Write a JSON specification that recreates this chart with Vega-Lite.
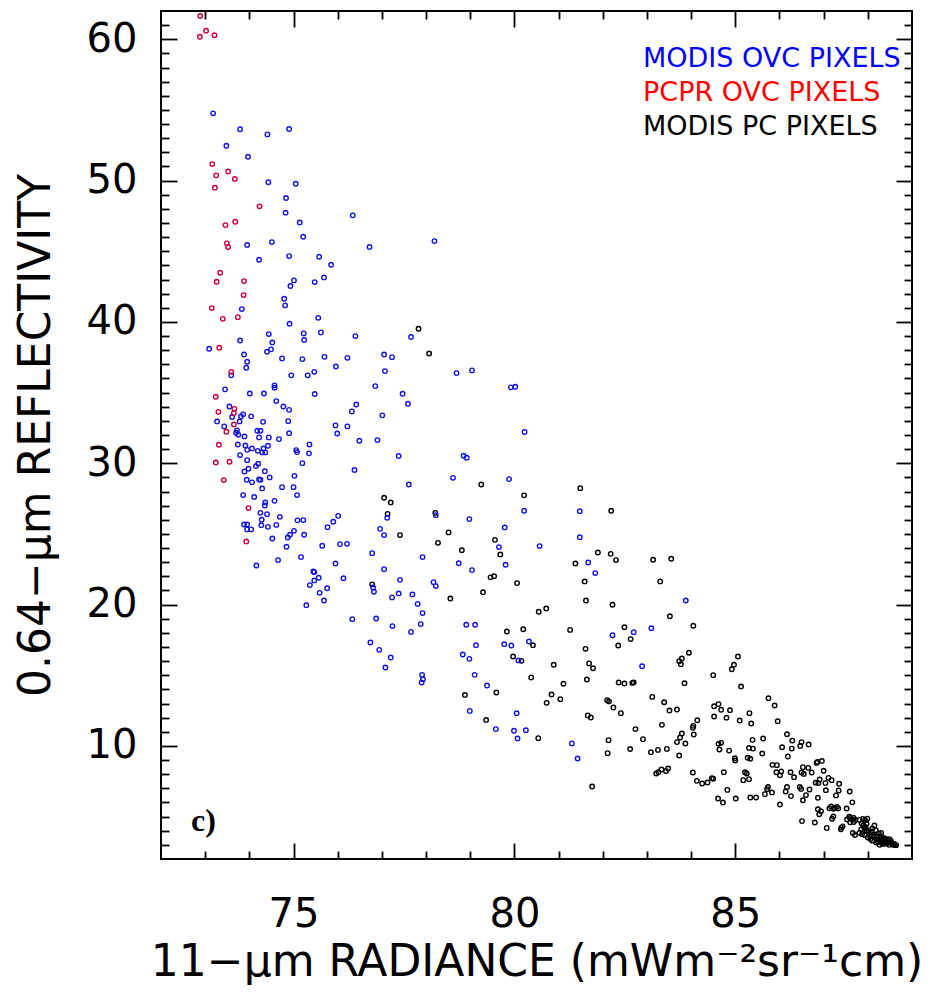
{
"$schema": "https://vega.github.io/schema/vega-lite/v6.json",
"width": 751, "height": 848,
"autosize": {"type": "none"},
"padding": {"left": 161, "top": 11, "right": 20, "bottom": 140},
"background": "white",
"config": {
 "view": {"stroke": "black", "strokeWidth": 2},
 "axis": {"domain": false, "grid": false, "tickColor": "black", "tickWidth": 1.8, "labelFont": "DejaVu Sans", "labelColor": "black", "titleFont": "DejaVu Sans", "titleColor": "black", "titleFontWeight": "normal"}
},
"datasets": {
 "pts": [
{"rad":77.83,"refl":39.52,"type":"MODIS PC PIXELS"},{"rad":78.07,"refl":37.77,"type":"MODIS PC PIXELS"},{"rad":77.05,"refl":27.56,"type":"MODIS PC PIXELS"},{"rad":77.2,"refl":27.23,"type":"MODIS PC PIXELS"},{"rad":77.13,"refl":26.42,"type":"MODIS PC PIXELS"},{"rad":78.21,"refl":26.49,"type":"MODIS PC PIXELS"},{"rad":77.41,"refl":24.92,"type":"MODIS PC PIXELS"},{"rad":78.51,"refl":25.11,"type":"MODIS PC PIXELS"},{"rad":78.27,"refl":24.37,"type":"MODIS PC PIXELS"},{"rad":76.78,"refl":21.43,"type":"MODIS PC PIXELS"},{"rad":78.55,"refl":20.43,"type":"MODIS PC PIXELS"},
{"rad":79.25,"refl":28.5,"type":"MODIS PC PIXELS"},{"rad":81.49,"refl":28.24,"type":"MODIS PC PIXELS"},{"rad":80.22,"refl":27.73,"type":"MODIS PC PIXELS"},{"rad":82.19,"refl":26.64,"type":"MODIS PC PIXELS"},{"rad":79.56,"refl":24.58,"type":"MODIS PC PIXELS"},{"rad":79.68,"refl":23.55,"type":"MODIS PC PIXELS"},{"rad":78.81,"refl":23.85,"type":"MODIS PC PIXELS"},{"rad":79.46,"refl":21.93,"type":"MODIS PC PIXELS"},{"rad":79.54,"refl":22.01,"type":"MODIS PC PIXELS"},{"rad":81.38,"refl":22.91,"type":"MODIS PC PIXELS"},{"rad":81.89,"refl":23.69,"type":"MODIS PC PIXELS"},{"rad":82.18,"refl":23.59,"type":"MODIS PC PIXELS"},{"rad":82.3,"refl":23.15,"type":"MODIS PC PIXELS"},{"rad":83.14,"refl":23.17,"type":"MODIS PC PIXELS"},{"rad":83.55,"refl":23.24,"type":"MODIS PC PIXELS"},
{"rad":80.06,"refl":21.52,"type":"MODIS PC PIXELS"},{"rad":79.29,"refl":20.88,"type":"MODIS PC PIXELS"},{"rad":81.59,"refl":21.64,"type":"MODIS PC PIXELS"},{"rad":83.3,"refl":21.64,"type":"MODIS PC PIXELS"},{"rad":81.62,"refl":20.29,"type":"MODIS PC PIXELS"},{"rad":82.22,"refl":19.99,"type":"MODIS PC PIXELS"},{"rad":80.55,"refl":19.49,"type":"MODIS PC PIXELS"},{"rad":80.72,"refl":19.73,"type":"MODIS PC PIXELS"},{"rad":83.52,"refl":19.18,"type":"MODIS PC PIXELS"},{"rad":79.83,"refl":18.1,"type":"MODIS PC PIXELS"},{"rad":80.2,"refl":18.26,"type":"MODIS PC PIXELS"},{"rad":80.42,"refl":17.13,"type":"MODIS PC PIXELS"},{"rad":79.97,"refl":16.33,"type":"MODIS PC PIXELS"},{"rad":80.16,"refl":16.02,"type":"MODIS PC PIXELS"},{"rad":80.89,"refl":15.74,"type":"MODIS PC PIXELS"},{"rad":80.38,"refl":14.85,"type":"MODIS PC PIXELS"},{"rad":79.59,"refl":13.78,"type":"MODIS PC PIXELS"},{"rad":78.88,"refl":13.61,"type":"MODIS PC PIXELS"},{"rad":79.36,"refl":11.84,"type":"MODIS PC PIXELS"},{"rad":81.11,"refl":14.4,"type":"MODIS PC PIXELS"},{"rad":80.84,"refl":13.64,"type":"MODIS PC PIXELS"},{"rad":81.04,"refl":13.31,"type":"MODIS PC PIXELS"},{"rad":80.73,"refl":13.05,"type":"MODIS PC PIXELS"},{"rad":80.54,"refl":10.55,"type":"MODIS PC PIXELS"},{"rad":81.26,"refl":18.21,"type":"MODIS PC PIXELS"},{"rad":81.61,"refl":16.87,"type":"MODIS PC PIXELS"},{"rad":81.69,"refl":15.84,"type":"MODIS PC PIXELS"},{"rad":81.78,"refl":15.5,"type":"MODIS PC PIXELS"},{"rad":81.64,"refl":14.7,"type":"MODIS PC PIXELS"},{"rad":82.35,"refl":17.11,"type":"MODIS PC PIXELS"},{"rad":82.49,"refl":18.4,"type":"MODIS PC PIXELS"},{"rad":82.63,"refl":17.56,"type":"MODIS PC PIXELS"},{"rad":82.36,"refl":14.49,"type":"MODIS PC PIXELS"},{"rad":82.49,"refl":14.42,"type":"MODIS PC PIXELS"},{"rad":82.67,"refl":14.46,"type":"MODIS PC PIXELS"},{"rad":82.7,"refl":14.5,"type":"MODIS PC PIXELS"},{"rad":82.1,"refl":13.24,"type":"MODIS PC PIXELS"},{"rad":82.14,"refl":13.15,"type":"MODIS PC PIXELS"},{"rad":82.24,"refl":12.72,"type":"MODIS PC PIXELS"},{"rad":82.41,"refl":12.32,"type":"MODIS PC PIXELS"},{"rad":81.66,"refl":12.16,"type":"MODIS PC PIXELS"},{"rad":81.73,"refl":12.01,"type":"MODIS PC PIXELS"},{"rad":82.74,"refl":11.19,"type":"MODIS PC PIXELS"},{"rad":82.13,"refl":10.41,"type":"MODIS PC PIXELS"},{"rad":82.11,"refl":9.49,"type":"MODIS PC PIXELS"},{"rad":82.62,"refl":9.78,"type":"MODIS PC PIXELS"},{"rad":82.91,"refl":10.48,"type":"MODIS PC PIXELS"},{"rad":83.09,"refl":9.56,"type":"MODIS PC PIXELS"},{"rad":83.25,"refl":9.72,"type":"MODIS PC PIXELS"},{"rad":83.45,"refl":9.79,"type":"MODIS PC PIXELS"},{"rad":83.21,"refl":8.05,"type":"MODIS PC PIXELS"},{"rad":83.26,"refl":8.14,"type":"MODIS PC PIXELS"},{"rad":83.33,"refl":8.33,"type":"MODIS PC PIXELS"},{"rad":83.43,"refl":8.23,"type":"MODIS PC PIXELS"},{"rad":83.48,"refl":8.4,"type":"MODIS PC PIXELS"},{"rad":81.76,"refl":7.13,"type":"MODIS PC PIXELS"},{"rad":83.12,"refl":13.47,"type":"MODIS PC PIXELS"},{"rad":83.39,"refl":13.09,"type":"MODIS PC PIXELS"},{"rad":83.51,"refl":12.51,"type":"MODIS PC PIXELS"},{"rad":83.68,"refl":12.58,"type":"MODIS PC PIXELS"},{"rad":83.34,"refl":11.49,"type":"MODIS PC PIXELS"},{"rad":83.79,"refl":10.88,"type":"MODIS PC PIXELS"},{"rad":83.75,"refl":10.6,"type":"MODIS PC PIXELS"},{"rad":83.68,"refl":10.27,"type":"MODIS PC PIXELS"},{"rad":83.87,"refl":10.17,"type":"MODIS PC PIXELS"},{"rad":83.73,"refl":9.32,"type":"MODIS PC PIXELS"},{"rad":83.85,"refl":14.44,"type":"MODIS PC PIXELS"},{"rad":83.73,"refl":16.0,"type":"MODIS PC PIXELS"},{"rad":83.79,"refl":16.19,"type":"MODIS PC PIXELS"},{"rad":83.77,"refl":15.78,"type":"MODIS PC PIXELS"},{"rad":83.95,"refl":16.59,"type":"MODIS PC PIXELS"},
{"rad":84.05,"refl":18.5,"type":"MODIS PC PIXELS"},{"rad":84.04,"refl":8.12,"type":"MODIS PC PIXELS"},{"rad":84.13,"refl":7.53,"type":"MODIS PC PIXELS"},{"rad":84.25,"refl":7.34,"type":"MODIS PC PIXELS"},{"rad":84.37,"refl":7.41,"type":"MODIS PC PIXELS"},{"rad":84.47,"refl":7.72,"type":"MODIS PC PIXELS"},{"rad":84.5,"refl":7.68,"type":"MODIS PC PIXELS"},{"rad":84.5,"refl":15.01,"type":"MODIS PC PIXELS"},{"rad":84.92,"refl":15.43,"type":"MODIS PC PIXELS"},{"rad":84.97,"refl":15.74,"type":"MODIS PC PIXELS"},{"rad":85.06,"refl":16.33,"type":"MODIS PC PIXELS"},{"rad":85.13,"refl":14.21,"type":"MODIS PC PIXELS"},{"rad":84.52,"refl":12.81,"type":"MODIS PC PIXELS"},{"rad":84.62,"refl":12.96,"type":"MODIS PC PIXELS"},{"rad":84.68,"refl":12.56,"type":"MODIS PC PIXELS"},{"rad":84.52,"refl":12.08,"type":"MODIS PC PIXELS"},{"rad":84.8,"refl":12.0,"type":"MODIS PC PIXELS"},{"rad":84.88,"refl":12.53,"type":"MODIS PC PIXELS"},{"rad":84.14,"refl":11.82,"type":"MODIS PC PIXELS"},{"rad":84.05,"refl":11.42,"type":"MODIS PC PIXELS"},{"rad":84.04,"refl":11.28,"type":"MODIS PC PIXELS"},{"rad":84.06,"refl":10.81,"type":"MODIS PC PIXELS"},{"rad":84.62,"refl":10.15,"type":"MODIS PC PIXELS"},{"rad":84.68,"refl":10.22,"type":"MODIS PC PIXELS"},{"rad":84.64,"refl":9.75,"type":"MODIS PC PIXELS"},{"rad":84.86,"refl":9.67,"type":"MODIS PC PIXELS"},{"rad":84.99,"refl":9.13,"type":"MODIS PC PIXELS"},{"rad":85.0,"refl":8.97,"type":"MODIS PC PIXELS"},{"rad":84.74,"refl":8.14,"type":"MODIS PC PIXELS"},{"rad":84.82,"refl":6.89,"type":"MODIS PC PIXELS"},{"rad":84.61,"refl":6.28,"type":"MODIS PC PIXELS"},{"rad":84.72,"refl":6.0,"type":"MODIS PC PIXELS"},{"rad":85.01,"refl":6.28,"type":"MODIS PC PIXELS"},{"rad":85.1,"refl":11.8,"type":"MODIS PC PIXELS"},{"rad":85.32,"refl":12.32,"type":"MODIS PC PIXELS"},{"rad":85.36,"refl":11.59,"type":"MODIS PC PIXELS"},{"rad":85.39,"refl":10.43,"type":"MODIS PC PIXELS"},{"rad":85.31,"refl":9.86,"type":"MODIS PC PIXELS"},{"rad":85.4,"refl":9.81,"type":"MODIS PC PIXELS"},{"rad":85.28,"refl":9.16,"type":"MODIS PC PIXELS"},{"rad":85.34,"refl":9.09,"type":"MODIS PC PIXELS"},{"rad":85.22,"refl":8.14,"type":"MODIS PC PIXELS"},{"rad":85.26,"refl":8.05,"type":"MODIS PC PIXELS"},{"rad":85.18,"refl":7.58,"type":"MODIS PC PIXELS"},{"rad":85.31,"refl":7.65,"type":"MODIS PC PIXELS"},{"rad":85.34,"refl":6.35,"type":"MODIS PC PIXELS"},{"rad":85.47,"refl":6.35,"type":"MODIS PC PIXELS"},{"rad":85.63,"refl":10.53,"type":"MODIS PC PIXELS"},{"rad":85.61,"refl":9.47,"type":"MODIS PC PIXELS"},{"rad":85.67,"refl":6.59,"type":"MODIS PC PIXELS"},{"rad":85.74,"refl":7.1,"type":"MODIS PC PIXELS"},{"rad":85.72,"refl":6.94,"type":"MODIS PC PIXELS"},{"rad":85.83,"refl":6.71,"type":"MODIS PC PIXELS"},{"rad":85.75,"refl":13.38,"type":"MODIS PC PIXELS"},{"rad":85.89,"refl":12.86,"type":"MODIS PC PIXELS"},{"rad":85.96,"refl":11.75,"type":"MODIS PC PIXELS"},{"rad":86.17,"refl":10.83,"type":"MODIS PC PIXELS"},{"rad":86.29,"refl":10.38,"type":"MODIS PC PIXELS"},{"rad":86.28,"refl":9.81,"type":"MODIS PC PIXELS"},{"rad":86.06,"refl":9.91,"type":"MODIS PC PIXELS"},{"rad":86.19,"refl":9.25,"type":"MODIS PC PIXELS"},{"rad":85.84,"refl":8.66,"type":"MODIS PC PIXELS"},{"rad":85.94,"refl":8.64,"type":"MODIS PC PIXELS"},{"rad":85.93,"refl":8.14,"type":"MODIS PC PIXELS"},{"rad":86.04,"refl":8.19,"type":"MODIS PC PIXELS"},{"rad":86.01,"refl":7.93,"type":"MODIS PC PIXELS"},{"rad":86.25,"refl":8.14,"type":"MODIS PC PIXELS"},{"rad":86.14,"refl":6.78,"type":"MODIS PC PIXELS"},{"rad":86.26,"refl":6.45,"type":"MODIS PC PIXELS"},{"rad":86.01,"refl":5.86,"type":"MODIS PC PIXELS"},{"rad":86.17,"refl":7.1,"type":"MODIS PC PIXELS"},{"rad":86.33,"refl":7.79,"type":"MODIS PC PIXELS"},{"rad":86.47,"refl":10.0,"type":"MODIS PC PIXELS"},{"rad":86.5,"refl":10.27,"type":"MODIS PC PIXELS"},{"rad":86.66,"refl":10.1,"type":"MODIS PC PIXELS"},{"rad":86.53,"refl":8.5,"type":"MODIS PC PIXELS"},{"rad":86.65,"refl":8.45,"type":"MODIS PC PIXELS"},{"rad":86.73,"refl":8.12,"type":"MODIS PC PIXELS"},{"rad":86.5,"refl":8.12,"type":"MODIS PC PIXELS"},{"rad":86.55,"refl":8.02,"type":"MODIS PC PIXELS"},{"rad":86.46,"refl":7.1,"type":"MODIS PC PIXELS"},{"rad":86.49,"refl":6.96,"type":"MODIS PC PIXELS"},{"rad":86.53,"refl":6.16,"type":"MODIS PC PIXELS"},{"rad":86.51,"refl":4.68,"type":"MODIS PC PIXELS"},{"rad":86.6,"refl":6.52,"type":"MODIS PC PIXELS"},{"rad":86.68,"refl":6.92,"type":"MODIS PC PIXELS"},{"rad":86.8,"refl":4.58,"type":"MODIS PC PIXELS"},{"rad":86.86,"refl":8.87,"type":"MODIS PC PIXELS"},{"rad":86.96,"refl":8.94,"type":"MODIS PC PIXELS"},{"rad":86.84,"refl":8.8,"type":"MODIS PC PIXELS"},{"rad":86.88,"refl":7.37,"type":"MODIS PC PIXELS"},{"rad":86.91,"refl":7.63,"type":"MODIS PC PIXELS"},{"rad":86.82,"refl":7.4,"type":"MODIS PC PIXELS"},{"rad":87.0,"refl":8.24,"type":"MODIS PC PIXELS"},{"rad":87.04,"refl":7.37,"type":"MODIS PC PIXELS"},{"rad":87.05,"refl":6.87,"type":"MODIS PC PIXELS"},{"rad":86.87,"refl":6.33,"type":"MODIS PC PIXELS"},{"rad":86.87,"refl":5.52,"type":"MODIS PC PIXELS"},{"rad":86.9,"refl":5.17,"type":"MODIS PC PIXELS"},{"rad":86.94,"refl":5.38,"type":"MODIS PC PIXELS"},{"rad":87.11,"refl":7.74,"type":"MODIS PC PIXELS"},{"rad":87.18,"refl":7.58,"type":"MODIS PC PIXELS"},{"rad":87.07,"refl":4.2,"type":"MODIS PC PIXELS"},{"rad":87.13,"refl":5.59,"type":"MODIS PC PIXELS"},{"rad":87.17,"refl":5.72,"type":"MODIS PC PIXELS"},{"rad":87.22,"refl":5.55,"type":"MODIS PC PIXELS"},{"rad":87.25,"refl":5.62,"type":"MODIS PC PIXELS"},{"rad":87.3,"refl":5.69,"type":"MODIS PC PIXELS"},{"rad":87.33,"refl":5.58,"type":"MODIS PC PIXELS"},{"rad":87.28,"refl":6.5,"type":"MODIS PC PIXELS"},{"rad":87.34,"refl":6.85,"type":"MODIS PC PIXELS"},{"rad":87.22,"refl":5.01,"type":"MODIS PC PIXELS"},{"rad":87.19,"refl":4.85,"type":"MODIS PC PIXELS"},{"rad":87.35,"refl":7.32,"type":"MODIS PC PIXELS"},{"rad":87.4,"refl":4.22,"type":"MODIS PC PIXELS"},{"rad":87.39,"refl":4.1,"type":"MODIS PC PIXELS"},{"rad":87.43,"refl":4.31,"type":"MODIS PC PIXELS"},{"rad":87.52,"refl":5.57,"type":"MODIS PC PIXELS"},{"rad":87.59,"refl":6.78,"type":"MODIS PC PIXELS"},{"rad":87.65,"refl":6.01,"type":"MODIS PC PIXELS"},{"rad":87.53,"refl":4.8,"type":"MODIS PC PIXELS"},{"rad":87.6,"refl":4.6,"type":"MODIS PC PIXELS"},{"rad":87.64,"refl":4.8,"type":"MODIS PC PIXELS"},{"rad":87.58,"refl":5.0,"type":"MODIS PC PIXELS"},{"rad":87.6,"refl":4.9,"type":"MODIS PC PIXELS"},{"rad":87.68,"refl":4.91,"type":"MODIS PC PIXELS"},{"rad":87.72,"refl":4.76,"type":"MODIS PC PIXELS"},{"rad":87.81,"refl":4.77,"type":"MODIS PC PIXELS"},{"rad":87.68,"refl":4.62,"type":"MODIS PC PIXELS"},{"rad":87.66,"refl":3.84,"type":"MODIS PC PIXELS"},{"rad":87.71,"refl":3.7,"type":"MODIS PC PIXELS"},{"rad":87.89,"refl":4.84,"type":"MODIS PC PIXELS"},{"rad":87.94,"refl":4.74,"type":"MODIS PC PIXELS"},{"rad":87.99,"refl":4.86,"type":"MODIS PC PIXELS"},{"rad":87.86,"refl":4.51,"type":"MODIS PC PIXELS"},{"rad":87.9,"refl":4.39,"type":"MODIS PC PIXELS"},{"rad":87.97,"refl":4.51,"type":"MODIS PC PIXELS"},{"rad":87.92,"refl":4.16,"type":"MODIS PC PIXELS"},{"rad":87.81,"refl":3.85,"type":"MODIS PC PIXELS"},{"rad":87.87,"refl":3.76,"type":"MODIS PC PIXELS"},{"rad":87.93,"refl":3.69,"type":"MODIS PC PIXELS"},{"rad":87.97,"refl":4.03,"type":"MODIS PC PIXELS"},{"rad":88.0,"refl":3.52,"type":"MODIS PC PIXELS"},{"rad":88.02,"refl":3.92,"type":"MODIS PC PIXELS"},{"rad":88.15,"refl":4.37,"type":"MODIS PC PIXELS"},{"rad":88.18,"refl":4.03,"type":"MODIS PC PIXELS"},{"rad":88.1,"refl":4.16,"type":"MODIS PC PIXELS"},{"rad":88.14,"refl":3.56,"type":"MODIS PC PIXELS"},{"rad":88.06,"refl":3.42,"type":"MODIS PC PIXELS"},{"rad":88.25,"refl":3.81,"type":"MODIS PC PIXELS"},{"rad":88.3,"refl":3.85,"type":"MODIS PC PIXELS"},{"rad":88.32,"refl":3.56,"type":"MODIS PC PIXELS"},{"rad":88.23,"refl":3.38,"type":"MODIS PC PIXELS"},{"rad":88.3,"refl":3.21,"type":"MODIS PC PIXELS"},{"rad":88.19,"refl":3.17,"type":"MODIS PC PIXELS"},{"rad":88.36,"refl":3.28,"type":"MODIS PC PIXELS"},{"rad":88.39,"refl":3.45,"type":"MODIS PC PIXELS"},{"rad":88.44,"refl":3.36,"type":"MODIS PC PIXELS"},{"rad":88.49,"refl":3.41,"type":"MODIS PC PIXELS"},{"rad":88.53,"refl":3.17,"type":"MODIS PC PIXELS"},{"rad":88.43,"refl":3.12,"type":"MODIS PC PIXELS"},{"rad":88.48,"refl":3.0,"type":"MODIS PC PIXELS"},{"rad":88.57,"refl":3.0,"type":"MODIS PC PIXELS"},{"rad":88.6,"refl":3.07,"type":"MODIS PC PIXELS"},{"rad":88.36,"refl":3.07,"type":"MODIS PC PIXELS"},{"rad":88.27,"refl":3.0,"type":"MODIS PC PIXELS"},{"rad":88.32,"refl":3.12,"type":"MODIS PC PIXELS"},{"rad":88.52,"refl":3.28,"type":"MODIS PC PIXELS"},{"rad":88.61,"refl":3.0,"type":"MODIS PC PIXELS"},{"rad":88.64,"refl":2.98,"type":"MODIS PC PIXELS"},{"rad":88.08,"refl":3.95,"type":"MODIS PC PIXELS"},{"rad":88.12,"refl":3.7,"type":"MODIS PC PIXELS"},{"rad":88.2,"refl":3.6,"type":"MODIS PC PIXELS"},{"rad":88.28,"refl":3.45,"type":"MODIS PC PIXELS"},{"rad":88.4,"refl":3.25,"type":"MODIS PC PIXELS"},{"rad":88.45,"refl":3.15,"type":"MODIS PC PIXELS"},{"rad":88.55,"refl":3.1,"type":"MODIS PC PIXELS"},{"rad":88.35,"refl":3.4,"type":"MODIS PC PIXELS"},{"rad":88.22,"refl":3.25,"type":"MODIS PC PIXELS"},{"rad":88.05,"refl":3.65,"type":"MODIS PC PIXELS"},{"rad":87.95,"refl":4.25,"type":"MODIS PC PIXELS"},{"rad":87.85,"refl":4.1,"type":"MODIS PC PIXELS"},{"rad":88.1,"refl":3.3,"type":"MODIS PC PIXELS"},
{"rad":73.18,"refl":54.76,"type":"MODIS OVC PIXELS"},{"rad":73.79,"refl":53.63,"type":"MODIS OVC PIXELS"},{"rad":74.41,"refl":53.27,"type":"MODIS OVC PIXELS"},{"rad":74.9,"refl":53.65,"type":"MODIS OVC PIXELS"},{"rad":73.48,"refl":52.47,"type":"MODIS OVC PIXELS"},{"rad":73.97,"refl":51.69,"type":"MODIS OVC PIXELS"},{"rad":74.43,"refl":49.88,"type":"MODIS OVC PIXELS"},{"rad":75.05,"refl":49.78,"type":"MODIS OVC PIXELS"},{"rad":74.83,"refl":48.77,"type":"MODIS OVC PIXELS"},{"rad":74.82,"refl":47.73,"type":"MODIS OVC PIXELS"},{"rad":76.34,"refl":47.54,"type":"MODIS OVC PIXELS"},{"rad":75.14,"refl":47.04,"type":"MODIS OVC PIXELS"},{"rad":75.22,"refl":46.03,"type":"MODIS OVC PIXELS"},{"rad":78.19,"refl":45.72,"type":"MODIS OVC PIXELS"},{"rad":76.72,"refl":45.3,"type":"MODIS OVC PIXELS"},{"rad":73.95,"refl":45.44,"type":"MODIS OVC PIXELS"},{"rad":74.51,"refl":45.65,"type":"MODIS OVC PIXELS"},{"rad":74.22,"refl":44.4,"type":"MODIS OVC PIXELS"},{"rad":74.9,"refl":44.66,"type":"MODIS OVC PIXELS"},{"rad":75.58,"refl":44.61,"type":"MODIS OVC PIXELS"},{"rad":75.85,"refl":44.05,"type":"MODIS OVC PIXELS"},{"rad":75.01,"refl":42.94,"type":"MODIS OVC PIXELS"},{"rad":74.93,"refl":42.54,"type":"MODIS OVC PIXELS"},{"rad":75.48,"refl":42.82,"type":"MODIS OVC PIXELS"},{"rad":75.69,"refl":43.15,"type":"MODIS OVC PIXELS"},{"rad":74.79,"refl":41.64,"type":"MODIS OVC PIXELS"},
{"rad":74.81,"refl":41.17,"type":"MODIS OVC PIXELS"},{"rad":73.83,"refl":40.91,"type":"MODIS OVC PIXELS"},{"rad":75.56,"refl":40.29,"type":"MODIS OVC PIXELS"},{"rad":74.91,"refl":39.87,"type":"MODIS OVC PIXELS"},{"rad":74.44,"refl":39.14,"type":"MODIS OVC PIXELS"},{"rad":75.23,"refl":39.19,"type":"MODIS OVC PIXELS"},{"rad":75.62,"refl":39.26,"type":"MODIS OVC PIXELS"},{"rad":76.4,"refl":39.0,"type":"MODIS OVC PIXELS"},{"rad":77.66,"refl":38.93,"type":"MODIS OVC PIXELS"},{"rad":75.24,"refl":38.72,"type":"MODIS OVC PIXELS"},{"rad":73.79,"refl":38.69,"type":"MODIS OVC PIXELS"},{"rad":74.52,"refl":38.55,"type":"MODIS OVC PIXELS"},{"rad":73.09,"refl":38.1,"type":"MODIS OVC PIXELS"},{"rad":74.49,"refl":38.06,"type":"MODIS OVC PIXELS"},{"rad":74.4,"refl":37.89,"type":"MODIS OVC PIXELS"},{"rad":73.88,"refl":37.7,"type":"MODIS OVC PIXELS"},{"rad":74.74,"refl":37.42,"type":"MODIS OVC PIXELS"},{"rad":75.2,"refl":37.37,"type":"MODIS OVC PIXELS"},{"rad":75.7,"refl":37.53,"type":"MODIS OVC PIXELS"},{"rad":76.22,"refl":37.46,"type":"MODIS OVC PIXELS"},{"rad":77.05,"refl":37.7,"type":"MODIS OVC PIXELS"},{"rad":77.23,"refl":37.51,"type":"MODIS OVC PIXELS"},{"rad":73.95,"refl":37.18,"type":"MODIS OVC PIXELS"},{"rad":73.93,"refl":36.76,"type":"MODIS OVC PIXELS"},{"rad":75.96,"refl":36.85,"type":"MODIS OVC PIXELS"},{"rad":77.07,"refl":36.52,"type":"MODIS OVC PIXELS"},{"rad":78.69,"refl":36.38,"type":"MODIS OVC PIXELS"},{"rad":73.59,"refl":36.22,"type":"MODIS OVC PIXELS"},{"rad":75.47,"refl":36.47,"type":"MODIS OVC PIXELS"},{"rad":74.95,"refl":36.22,"type":"MODIS OVC PIXELS"},{"rad":75.32,"refl":36.22,"type":"MODIS OVC PIXELS"},{"rad":74.57,"refl":35.51,"type":"MODIS OVC PIXELS"},{"rad":74.57,"refl":35.34,"type":"MODIS OVC PIXELS"},{"rad":76.85,"refl":35.46,"type":"MODIS OVC PIXELS"},{"rad":73.45,"refl":35.23,"type":"MODIS OVC PIXELS"},{"rad":74.01,"refl":34.94,"type":"MODIS OVC PIXELS"},{"rad":74.33,"refl":34.94,"type":"MODIS OVC PIXELS"},{"rad":75.48,"refl":34.9,"type":"MODIS OVC PIXELS"},{"rad":77.47,"refl":34.92,"type":"MODIS OVC PIXELS"},{"rad":74.61,"refl":34.4,"type":"MODIS OVC PIXELS"},{"rad":74.77,"refl":34.02,"type":"MODIS OVC PIXELS"},{"rad":74.9,"refl":33.78,"type":"MODIS OVC PIXELS"},{"rad":76.42,"refl":34.16,"type":"MODIS OVC PIXELS"},{"rad":76.32,"refl":33.67,"type":"MODIS OVC PIXELS"},{"rad":77.59,"refl":34.21,"type":"MODIS OVC PIXELS"},{"rad":73.55,"refl":34.02,"type":"MODIS OVC PIXELS"},{"rad":73.61,"refl":33.27,"type":"MODIS OVC PIXELS"},{"rad":73.81,"refl":33.32,"type":"MODIS OVC PIXELS"},{"rad":73.86,"refl":33.46,"type":"MODIS OVC PIXELS"},{"rad":74.04,"refl":33.32,"type":"MODIS OVC PIXELS"},{"rad":77.01,"refl":33.39,"type":"MODIS OVC PIXELS"},{"rad":73.27,"refl":32.96,"type":"MODIS OVC PIXELS"},{"rad":73.78,"refl":32.96,"type":"MODIS OVC PIXELS"},{"rad":74.31,"refl":32.93,"type":"MODIS OVC PIXELS"},{"rad":74.88,"refl":32.98,"type":"MODIS OVC PIXELS"},{"rad":73.43,"refl":32.61,"type":"MODIS OVC PIXELS"},{"rad":75.95,"refl":32.68,"type":"MODIS OVC PIXELS"},{"rad":76.22,"refl":32.61,"type":"MODIS OVC PIXELS"},{"rad":73.72,"refl":32.33,"type":"MODIS OVC PIXELS"},{"rad":73.7,"refl":32.16,"type":"MODIS OVC PIXELS"},{"rad":73.75,"refl":32.02,"type":"MODIS OVC PIXELS"},{"rad":74.18,"refl":32.3,"type":"MODIS OVC PIXELS"},{"rad":74.25,"refl":32.3,"type":"MODIS OVC PIXELS"},{"rad":74.9,"refl":32.13,"type":"MODIS OVC PIXELS"},{"rad":75.99,"refl":32.11,"type":"MODIS OVC PIXELS"},{"rad":73.89,"refl":31.9,"type":"MODIS OVC PIXELS"},{"rad":74.22,"refl":31.83,"type":"MODIS OVC PIXELS"},{"rad":74.44,"refl":31.83,"type":"MODIS OVC PIXELS"},{"rad":74.67,"refl":31.71,"type":"MODIS OVC PIXELS"},{"rad":76.49,"refl":31.59,"type":"MODIS OVC PIXELS"},{"rad":76.9,"refl":31.64,"type":"MODIS OVC PIXELS"},{"rad":73.74,"refl":31.33,"type":"MODIS OVC PIXELS"},{"rad":73.91,"refl":31.26,"type":"MODIS OVC PIXELS"},{"rad":75.36,"refl":31.33,"type":"MODIS OVC PIXELS"},{"rad":73.95,"refl":30.95,"type":"MODIS OVC PIXELS"},{"rad":74.06,"refl":31.05,"type":"MODIS OVC PIXELS"},{"rad":74.19,"refl":30.88,"type":"MODIS OVC PIXELS"},{"rad":74.29,"refl":30.77,"type":"MODIS OVC PIXELS"},{"rad":74.32,"refl":31.05,"type":"MODIS OVC PIXELS"},{"rad":74.36,"refl":30.77,"type":"MODIS OVC PIXELS"},{"rad":74.42,"refl":31.24,"type":"MODIS OVC PIXELS"},{"rad":75.06,"refl":30.93,"type":"MODIS OVC PIXELS"},{"rad":75.08,"refl":30.79,"type":"MODIS OVC PIXELS"},{"rad":75.35,"refl":30.7,"type":"MODIS OVC PIXELS"},{"rad":77.38,"refl":30.51,"type":"MODIS OVC PIXELS"},{"rad":73.79,"refl":30.58,"type":"MODIS OVC PIXELS"},{"rad":73.95,"refl":30.22,"type":"MODIS OVC PIXELS"},{"rad":74.2,"refl":29.97,"type":"MODIS OVC PIXELS"},{"rad":74.15,"refl":29.8,"type":"MODIS OVC PIXELS"},{"rad":75.2,"refl":30.01,"type":"MODIS OVC PIXELS"},{"rad":73.98,"refl":29.61,"type":"MODIS OVC PIXELS"},{"rad":73.89,"refl":29.42,"type":"MODIS OVC PIXELS"},{"rad":74.35,"refl":29.44,"type":"MODIS OVC PIXELS"},{"rad":76.38,"refl":29.52,"type":"MODIS OVC PIXELS"},{"rad":75.02,"refl":29.11,"type":"MODIS OVC PIXELS"},{"rad":74.46,"refl":29.0,"type":"MODIS OVC PIXELS"},{"rad":73.94,"refl":28.83,"type":"MODIS OVC PIXELS"},{"rad":74.22,"refl":28.86,"type":"MODIS OVC PIXELS"},{"rad":74.25,"refl":28.83,"type":"MODIS OVC PIXELS"},{"rad":74.06,"refl":28.65,"type":"MODIS OVC PIXELS"},{"rad":78.61,"refl":28.97,"type":"MODIS OVC PIXELS"},{"rad":77.61,"refl":28.5,"type":"MODIS OVC PIXELS"},{"rad":74.74,"refl":28.31,"type":"MODIS OVC PIXELS"},{"rad":75.0,"refl":28.31,"type":"MODIS OVC PIXELS"},{"rad":74.29,"refl":28.22,"type":"MODIS OVC PIXELS"},{"rad":75.08,"refl":27.75,"type":"MODIS OVC PIXELS"},{"rad":73.86,"refl":27.75,"type":"MODIS OVC PIXELS"},{"rad":74.11,"refl":27.61,"type":"MODIS OVC PIXELS"},{"rad":74.57,"refl":27.34,"type":"MODIS OVC PIXELS"},{"rad":74.36,"refl":27.23,"type":"MODIS OVC PIXELS"},{"rad":74.35,"refl":27.02,"type":"MODIS OVC PIXELS"},{"rad":74.25,"refl":26.49,"type":"MODIS OVC PIXELS"},{"rad":74.4,"refl":26.4,"type":"MODIS OVC PIXELS"},{"rad":77.12,"refl":26.14,"type":"MODIS OVC PIXELS"},{"rad":78.22,"refl":26.33,"type":"MODIS OVC PIXELS"},{"rad":76.01,"refl":26.28,"type":"MODIS OVC PIXELS"},{"rad":74.69,"refl":26.21,"type":"MODIS OVC PIXELS"},{"rad":74.28,"refl":26.0,"type":"MODIS OVC PIXELS"},{"rad":75.09,"refl":25.96,"type":"MODIS OVC PIXELS"},{"rad":75.22,"refl":25.98,"type":"MODIS OVC PIXELS"},{"rad":75.9,"refl":25.86,"type":"MODIS OVC PIXELS"},{"rad":73.88,"refl":25.67,"type":"MODIS OVC PIXELS"},{"rad":73.95,"refl":25.67,"type":"MODIS OVC PIXELS"},{"rad":73.95,"refl":25.32,"type":"MODIS OVC PIXELS"},{"rad":74.04,"refl":25.32,"type":"MODIS OVC PIXELS"},{"rad":74.27,"refl":25.62,"type":"MODIS OVC PIXELS"},{"rad":74.42,"refl":25.5,"type":"MODIS OVC PIXELS"},{"rad":74.61,"refl":25.64,"type":"MODIS OVC PIXELS"},{"rad":75.01,"refl":25.22,"type":"MODIS OVC PIXELS"},{"rad":74.92,"refl":24.94,"type":"MODIS OVC PIXELS"},{"rad":74.87,"refl":24.75,"type":"MODIS OVC PIXELS"},{"rad":75.24,"refl":24.94,"type":"MODIS OVC PIXELS"},{"rad":75.77,"refl":25.48,"type":"MODIS OVC PIXELS"},{"rad":76.96,"refl":25.36,"type":"MODIS OVC PIXELS"},{"rad":77.05,"refl":24.92,"type":"MODIS OVC PIXELS"},{"rad":74.52,"refl":24.68,"type":"MODIS OVC PIXELS"},{"rad":74.84,"refl":24.09,"type":"MODIS OVC PIXELS"},{"rad":75.65,"refl":24.16,"type":"MODIS OVC PIXELS"},{"rad":76.05,"refl":24.28,"type":"MODIS OVC PIXELS"},{"rad":76.21,"refl":24.3,"type":"MODIS OVC PIXELS"},{"rad":76.78,"refl":23.64,"type":"MODIS OVC PIXELS"},{"rad":77.92,"refl":23.36,"type":"MODIS OVC PIXELS"},{"rad":78.74,"refl":22.93,"type":"MODIS OVC PIXELS"},{"rad":75.17,"refl":23.36,"type":"MODIS OVC PIXELS"},{"rad":74.65,"refl":23.15,"type":"MODIS OVC PIXELS"},{"rad":74.16,"refl":22.77,"type":"MODIS OVC PIXELS"},{"rad":75.95,"refl":22.91,"type":"MODIS OVC PIXELS"},{"rad":77.05,"refl":22.51,"type":"MODIS OVC PIXELS"},{"rad":75.45,"refl":22.35,"type":"MODIS OVC PIXELS"},{"rad":75.47,"refl":22.3,"type":"MODIS OVC PIXELS"},{"rad":75.57,"refl":21.9,"type":"MODIS OVC PIXELS"},{"rad":76.13,"refl":21.87,"type":"MODIS OVC PIXELS"},{"rad":77.41,"refl":21.75,"type":"MODIS OVC PIXELS"},
{"rad":75.47,"refl":21.71,"type":"MODIS OVC PIXELS"},{"rad":75.37,"refl":21.38,"type":"MODIS OVC PIXELS"},{"rad":75.76,"refl":21.16,"type":"MODIS OVC PIXELS"},{"rad":75.59,"refl":20.83,"type":"MODIS OVC PIXELS"},{"rad":75.69,"refl":20.29,"type":"MODIS OVC PIXELS"},{"rad":75.29,"refl":19.96,"type":"MODIS OVC PIXELS"},{"rad":76.8,"refl":21.21,"type":"MODIS OVC PIXELS"},{"rad":76.82,"refl":20.91,"type":"MODIS OVC PIXELS"},{"rad":77.23,"refl":20.51,"type":"MODIS OVC PIXELS"},{"rad":77.38,"refl":20.79,"type":"MODIS OVC PIXELS"},{"rad":77.69,"refl":20.72,"type":"MODIS OVC PIXELS"},{"rad":77.81,"refl":20.05,"type":"MODIS OVC PIXELS"},{"rad":77.92,"refl":19.4,"type":"MODIS OVC PIXELS"},{"rad":78.17,"refl":21.59,"type":"MODIS OVC PIXELS"},{"rad":78.22,"refl":21.31,"type":"MODIS OVC PIXELS"},{"rad":76.33,"refl":18.97,"type":"MODIS OVC PIXELS"},{"rad":76.87,"refl":19.02,"type":"MODIS OVC PIXELS"},{"rad":77.24,"refl":18.48,"type":"MODIS OVC PIXELS"},{"rad":77.66,"refl":18.07,"type":"MODIS OVC PIXELS"},{"rad":77.88,"refl":18.62,"type":"MODIS OVC PIXELS"},{"rad":76.74,"refl":17.32,"type":"MODIS OVC PIXELS"},{"rad":76.94,"refl":16.8,"type":"MODIS OVC PIXELS"},{"rad":77.2,"refl":16.26,"type":"MODIS OVC PIXELS"},{"rad":77.08,"refl":15.55,"type":"MODIS OVC PIXELS"},{"rad":77.91,"refl":15.03,"type":"MODIS OVC PIXELS"},{"rad":77.93,"refl":14.72,"type":"MODIS OVC PIXELS"},{"rad":77.9,"refl":14.49,"type":"MODIS OVC PIXELS"},
{"rad":79.04,"refl":36.57,"type":"MODIS OVC PIXELS"},{"rad":79.92,"refl":35.37,"type":"MODIS OVC PIXELS"},{"rad":80.02,"refl":35.41,"type":"MODIS OVC PIXELS"},{"rad":80.23,"refl":32.21,"type":"MODIS OVC PIXELS"},{"rad":78.85,"refl":30.53,"type":"MODIS OVC PIXELS"},{"rad":78.92,"refl":30.39,"type":"MODIS OVC PIXELS"},{"rad":79.88,"refl":28.88,"type":"MODIS OVC PIXELS"},{"rad":80.22,"refl":26.64,"type":"MODIS OVC PIXELS"},{"rad":81.48,"refl":26.61,"type":"MODIS OVC PIXELS"},{"rad":78.98,"refl":26.05,"type":"MODIS OVC PIXELS"},{"rad":79.78,"refl":25.46,"type":"MODIS OVC PIXELS"},{"rad":79.65,"refl":24.07,"type":"MODIS OVC PIXELS"},{"rad":80.57,"refl":24.14,"type":"MODIS OVC PIXELS"},{"rad":81.48,"refl":24.77,"type":"MODIS OVC PIXELS"},{"rad":79.04,"refl":22.44,"type":"MODIS OVC PIXELS"},{"rad":79.8,"refl":22.82,"type":"MODIS OVC PIXELS"},{"rad":81.67,"refl":22.98,"type":"MODIS OVC PIXELS"},{"rad":81.83,"refl":22.23,"type":"MODIS OVC PIXELS"},
{"rad":83.88,"refl":20.29,"type":"MODIS OVC PIXELS"},{"rad":78.91,"refl":18.57,"type":"MODIS OVC PIXELS"},{"rad":79.11,"refl":18.57,"type":"MODIS OVC PIXELS"},{"rad":79.13,"refl":17.13,"type":"MODIS OVC PIXELS"},{"rad":78.83,"refl":16.47,"type":"MODIS OVC PIXELS"},{"rad":78.98,"refl":16.16,"type":"MODIS OVC PIXELS"},{"rad":79.1,"refl":15.03,"type":"MODIS OVC PIXELS"},{"rad":79.38,"refl":14.28,"type":"MODIS OVC PIXELS"},{"rad":78.99,"refl":12.48,"type":"MODIS OVC PIXELS"},{"rad":79.58,"refl":11.19,"type":"MODIS OVC PIXELS"},{"rad":79.99,"refl":11.07,"type":"MODIS OVC PIXELS"},{"rad":80.07,"refl":10.53,"type":"MODIS OVC PIXELS"},{"rad":80.26,"refl":11.11,"type":"MODIS OVC PIXELS"},{"rad":80.05,"refl":12.31,"type":"MODIS OVC PIXELS"},{"rad":79.77,"refl":17.2,"type":"MODIS OVC PIXELS"},{"rad":79.93,"refl":17.11,"type":"MODIS OVC PIXELS"},{"rad":80.33,"refl":17.39,"type":"MODIS OVC PIXELS"},{"rad":80.09,"refl":16.05,"type":"MODIS OVC PIXELS"},{"rad":82.22,"refl":17.83,"type":"MODIS OVC PIXELS"},{"rad":82.7,"refl":18.05,"type":"MODIS OVC PIXELS"},{"rad":83.1,"refl":18.33,"type":"MODIS OVC PIXELS"},{"rad":82.89,"refl":15.64,"type":"MODIS OVC PIXELS"},{"rad":81.3,"refl":10.18,"type":"MODIS OVC PIXELS"},{"rad":81.43,"refl":9.11,"type":"MODIS OVC PIXELS"},
{"rad":72.89,"refl":61.65,"type":"PCPR OVC PIXELS"},{"rad":73.02,"refl":60.6,"type":"PCPR OVC PIXELS"},{"rad":72.88,"refl":60.18,"type":"PCPR OVC PIXELS"},{"rad":73.21,"refl":60.28,"type":"PCPR OVC PIXELS"},{"rad":73.16,"refl":51.17,"type":"PCPR OVC PIXELS"},{"rad":73.25,"refl":50.37,"type":"PCPR OVC PIXELS"},{"rad":73.52,"refl":50.65,"type":"PCPR OVC PIXELS"},{"rad":73.67,"refl":50.11,"type":"PCPR OVC PIXELS"},{"rad":73.22,"refl":49.5,"type":"PCPR OVC PIXELS"},{"rad":74.23,"refl":48.18,"type":"PCPR OVC PIXELS"},{"rad":73.68,"refl":47.09,"type":"PCPR OVC PIXELS"},{"rad":73.46,"refl":46.85,"type":"PCPR OVC PIXELS"},{"rad":73.49,"refl":45.56,"type":"PCPR OVC PIXELS"},{"rad":73.52,"refl":45.3,"type":"PCPR OVC PIXELS"},{"rad":73.34,"refl":43.48,"type":"PCPR OVC PIXELS"},{"rad":73.26,"refl":42.84,"type":"PCPR OVC PIXELS"},{"rad":73.88,"refl":42.89,"type":"PCPR OVC PIXELS"},{"rad":73.87,"refl":41.9,"type":"PCPR OVC PIXELS"},{"rad":73.15,"refl":40.98,"type":"PCPR OVC PIXELS"},{"rad":73.4,"refl":40.22,"type":"PCPR OVC PIXELS"},{"rad":73.74,"refl":40.34,"type":"PCPR OVC PIXELS"},{"rad":73.32,"refl":38.17,"type":"PCPR OVC PIXELS"},{"rad":73.59,"refl":36.47,"type":"PCPR OVC PIXELS"},{"rad":73.24,"refl":34.71,"type":"PCPR OVC PIXELS"},{"rad":73.66,"refl":33.85,"type":"PCPR OVC PIXELS"},{"rad":73.3,"refl":33.64,"type":"PCPR OVC PIXELS"},{"rad":73.65,"refl":33.55,"type":"PCPR OVC PIXELS"},{"rad":73.65,"refl":32.75,"type":"PCPR OVC PIXELS"},{"rad":73.48,"refl":32.23,"type":"PCPR OVC PIXELS"},{"rad":73.31,"refl":31.31,"type":"PCPR OVC PIXELS"},{"rad":73.24,"refl":30.06,"type":"PCPR OVC PIXELS"},{"rad":73.55,"refl":30.11,"type":"PCPR OVC PIXELS"},{"rad":73.42,"refl":28.81,"type":"PCPR OVC PIXELS"},{"rad":73.98,"refl":26.83,"type":"PCPR OVC PIXELS"},{"rad":73.93,"refl":24.47,"type":"PCPR OVC PIXELS"}
 ],
 "note": [{"label": "c)"}]
},
"layer": [
 {
  "data": {"name": "pts"},
  "mark": {"type": "point", "shape": "circle", "filled": false, "size": 20, "strokeWidth": 1.4, "opacity": 1},
  "encoding": {
   "x": {"field": "rad", "type": "quantitative", "scale": {"domain": [72, 89], "nice": false, "zero": false},
     "axis": {"orient": "bottom", "values": [75, 80, 85], "offset": -16, "tickSize": 16, "labelPadding": 35, "labelFontSize": 40, "title": "11−μm RADIANCE (mWm⁻²sr⁻¹cm)", "titleFontSize": 44, "titlePadding": 6}},
   "y": {"field": "refl", "type": "quantitative", "scale": {"domain": [2, 62], "nice": false, "zero": false},
     "axis": {"orient": "left", "values": [10, 20, 30, 40, 50, 60], "offset": -16, "tickSize": 16, "labelPadding": 24, "labelFontSize": 40, "title": "0.64−μm REFLECTIVITY", "titleFontSize": 44, "titlePadding": 28}},
   "color": {"field": "type", "type": "nominal",
     "scale": {"domain": ["MODIS OVC PIXELS", "PCPR OVC PIXELS", "MODIS PC PIXELS"], "range": ["#1414dc", "#c8003c", "#000000"]},
     "legend": {"orient": "none", "legendX": 455, "legendY": 34, "title": null, "padding": 0, "symbolSize": 0, "symbolOpacity": 0, "symbolStrokeWidth": 0, "labelOffset": 0, "labelFont": "DejaVu Sans", "labelFontSize": 27, "labelLimit": 0, "rowPadding": 6,
       "labelColor": {"expr": "datum.label == 'MODIS OVC PIXELS' ? '#0000ff' : datum.label == 'PCPR OVC PIXELS' ? '#ff0000' : '#000000'"}}}
  }
 },
 {
  "data": {"name": "pts"},
  "mark": {"type": "point", "opacity": 0},
  "encoding": {
   "x": {"field": "rad", "type": "quantitative", "scale": {"domain": [72, 89], "nice": false, "zero": false},
     "axis": {"orient": "bottom", "values": [73, 74, 76, 77, 78, 79, 81, 82, 83, 84, 86, 87, 88], "offset": -8, "tickSize": 8, "labels": false, "title": null}},
   "y": {"field": "refl", "type": "quantitative", "scale": {"domain": [2, 62], "nice": false, "zero": false},
     "axis": {"orient": "left", "values": [3,4,5,6,7,8,9,11,12,13,14,15,16,17,18,19,21,22,23,24,25,26,27,28,29,31,32,33,34,35,36,37,38,39,41,42,43,44,45,46,47,48,49,51,52,53,54,55,56,57,58,59,61], "offset": -8, "tickSize": 8, "labels": false, "title": null}}
  }
 },
 {
  "data": {"name": "pts"},
  "mark": {"type": "point", "opacity": 0},
  "encoding": {
   "x": {"field": "rad", "type": "quantitative", "scale": {"domain": [72, 89], "nice": false, "zero": false},
     "axis": {"orient": "top", "values": [75, 80, 85], "offset": -16, "tickSize": 16, "labels": false, "title": null}},
   "y": {"field": "refl", "type": "quantitative", "scale": {"domain": [2, 62], "nice": false, "zero": false},
     "axis": {"orient": "right", "values": [10, 20, 30, 40, 50, 60], "offset": -16, "tickSize": 16, "labels": false, "title": null}}
  }
 },
 {
  "data": {"name": "pts"},
  "mark": {"type": "point", "opacity": 0},
  "encoding": {
   "x": {"field": "rad", "type": "quantitative", "scale": {"domain": [72, 89], "nice": false, "zero": false},
     "axis": {"orient": "top", "values": [73, 74, 76, 77, 78, 79, 81, 82, 83, 84, 86, 87, 88], "offset": -8, "tickSize": 8, "labels": false, "title": null}},
   "y": {"field": "refl", "type": "quantitative", "scale": {"domain": [2, 62], "nice": false, "zero": false},
     "axis": {"orient": "right", "values": [3,4,5,6,7,8,9,11,12,13,14,15,16,17,18,19,21,22,23,24,25,26,27,28,29,31,32,33,34,35,36,37,38,39,41,42,43,44,45,46,47,48,49,51,52,53,54,55,56,57,58,59,61], "offset": -8, "tickSize": 8, "labels": false, "title": null}}
  }
 },
 {
  "data": {"name": "note"},
  "mark": {"type": "text", "font": "Liberation Serif", "fontWeight": "bold", "fontSize": 32, "align": "left", "baseline": "alphabetic", "color": "black"},
  "encoding": {
   "x": {"datum": 72.68, "type": "quantitative", "axis": null},
   "y": {"datum": 4.0, "type": "quantitative", "axis": null},
   "text": {"field": "label"}
  }
 }
],
"resolve": {"axis": {"x": "independent", "y": "independent"}}
}
